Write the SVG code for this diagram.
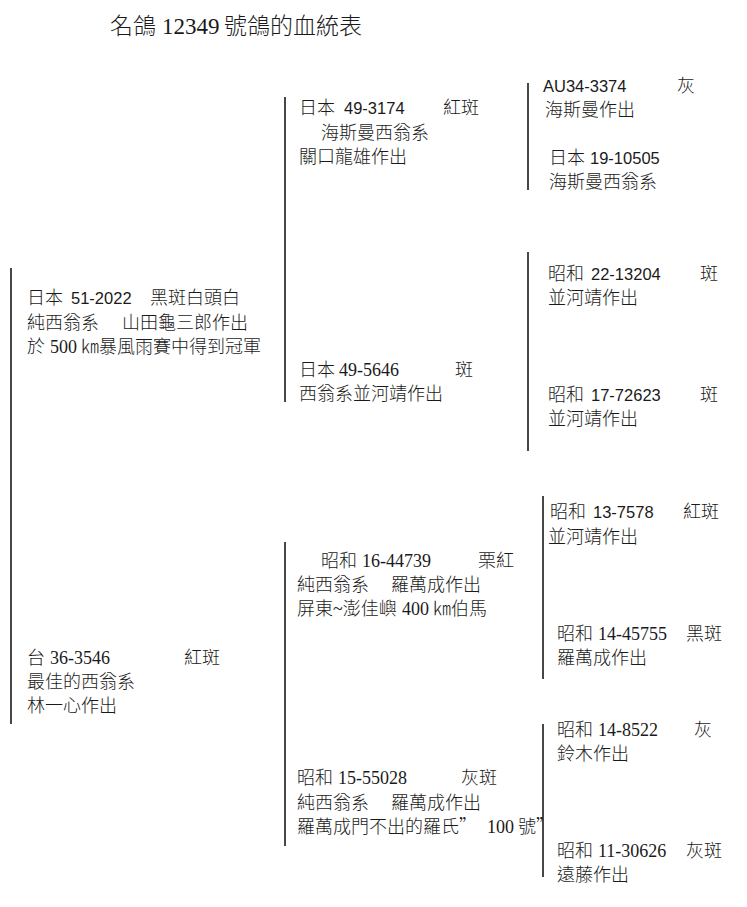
<svg xmlns="http://www.w3.org/2000/svg" width="747" height="907" viewBox="0 0 747 907">
<style>
text{font-family:"Noto Sans CJK TC",sans-serif;font-size:18px;fill:#1a1a1a;font-weight:300}
.t{font-family:"Liberation Serif",serif;font-weight:400}
.s{font-family:"Liberation Sans",sans-serif;font-size:16.5px;font-weight:400}
.title{font-size:23px}
.ln{stroke:#474747;stroke-width:2;fill:none}
</style>
<rect width="747" height="907" fill="#ffffff"/>
<text id="title" class="title" x="110" y="34">名鴿<tspan class="t" x="162">12349</tspan><tspan x="224">號鴿的血統表</tspan></text>
<g id="connectors">
<line class="ln" x1="11" y1="268" x2="11" y2="724"/>
<line class="ln" x1="285" y1="97" x2="285" y2="402"/>
<line class="ln" x1="285" y1="542" x2="285" y2="846"/>
<line class="ln" x1="528" y1="83" x2="528" y2="190"/>
<line class="ln" x1="528" y1="252" x2="528" y2="451"/>
<line class="ln" x1="543" y1="496" x2="543" y2="679"/>
<line class="ln" x1="543" y1="724" x2="543" y2="877"/>
</g>
<g id="node-51-2022">
<text x="27" y="304">日本<tspan class="s" x="71">51-2022</tspan><tspan x="150">黑斑白頭白</tspan></text>
<text x="27" y="329">純西翁系<tspan x="122">山田龜三郎作出</tspan></text>
<text x="27" y="353">於<tspan class="t" x="50">500</tspan><tspan x="81">㎞暴風雨賽中得到冠軍</tspan></text>
</g>
<g id="node-36-3546">
<text x="27" y="664">台<tspan class="t" x="50">36-3546</tspan><tspan x="184">紅斑</tspan></text>
<text x="27" y="688">最佳的西翁系</text>
<text x="27" y="712">林一心作出</text>
</g>
<g id="node-49-3174">
<text x="299" y="114">日本<tspan class="s" x="344">49-3174</tspan><tspan x="443">紅斑</tspan></text>
<text x="321" y="139">海斯曼西翁系</text>
<text x="299" y="163">關口龍雄作出</text>
</g>
<g id="node-49-5646">
<text x="299" y="376">日本<tspan class="t" x="339">49-5646</tspan><tspan x="455">斑</tspan></text>
<text x="299" y="400">西翁系並河靖作出</text>
</g>
<g id="node-16-44739">
<text x="321" y="567">昭和<tspan class="t" x="362">16-44739</tspan><tspan x="478">栗紅</tspan></text>
<text x="297" y="591">純西翁系<tspan x="391">羅萬成作出</tspan></text>
<text x="297" y="615">屏東<tspan class="t">~</tspan>澎佳嶼<tspan class="t" x="402">400</tspan><tspan x="433">㎞伯馬</tspan></text>
</g>
<g id="node-15-55028">
<text x="297" y="784">昭和<tspan class="t" x="338">15-55028</tspan><tspan x="461">灰斑</tspan></text>
<text x="297" y="809">純西翁系<tspan x="391">羅萬成作出</tspan></text>
<text x="297" y="833">羅萬成門不出的羅氏”<tspan class="t" x="487">100</tspan><tspan x="518">號”</tspan></text>
</g>
<g id="node-AU34-3374">
<text x="543" y="92"><tspan class="s">AU34-3374</tspan><tspan x="677">灰</tspan></text>
<text x="545" y="116">海斯曼作出</text>
</g>
<g id="node-19-10505">
<text x="549" y="164">日本<tspan class="s" x="590">19-10505</tspan></text>
<text x="549" y="188">海斯曼西翁系</text>
</g>
<g id="node-22-13204">
<text x="548" y="280">昭和<tspan class="s" x="591">22-13204</tspan><tspan x="700">斑</tspan></text>
<text x="548" y="304">並河靖作出</text>
</g>
<g id="node-17-72623">
<text x="548" y="401">昭和<tspan class="s" x="591">17-72623</tspan><tspan x="700">斑</tspan></text>
<text x="548" y="425">並河靖作出</text>
</g>
<g id="node-13-7578">
<text x="550" y="518">昭和<tspan class="s" x="593">13-7578</tspan><tspan x="683">紅斑</tspan></text>
<text x="548" y="543">並河靖作出</text>
</g>
<g id="node-14-45755">
<text x="557" y="640">昭和<tspan class="t" x="598">14-45755</tspan><tspan x="686">黑斑</tspan></text>
<text x="557" y="664">羅萬成作出</text>
</g>
<g id="node-14-8522">
<text x="557" y="736">昭和<tspan class="t" x="598">14-8522</tspan><tspan x="694">灰</tspan></text>
<text x="557" y="760">鈴木作出</text>
</g>
<g id="node-11-30626">
<text x="557" y="857">昭和<tspan class="t" x="598">11-30626</tspan><tspan x="686">灰斑</tspan></text>
<text x="557" y="881">遠藤作出</text>
</g>
</svg>
